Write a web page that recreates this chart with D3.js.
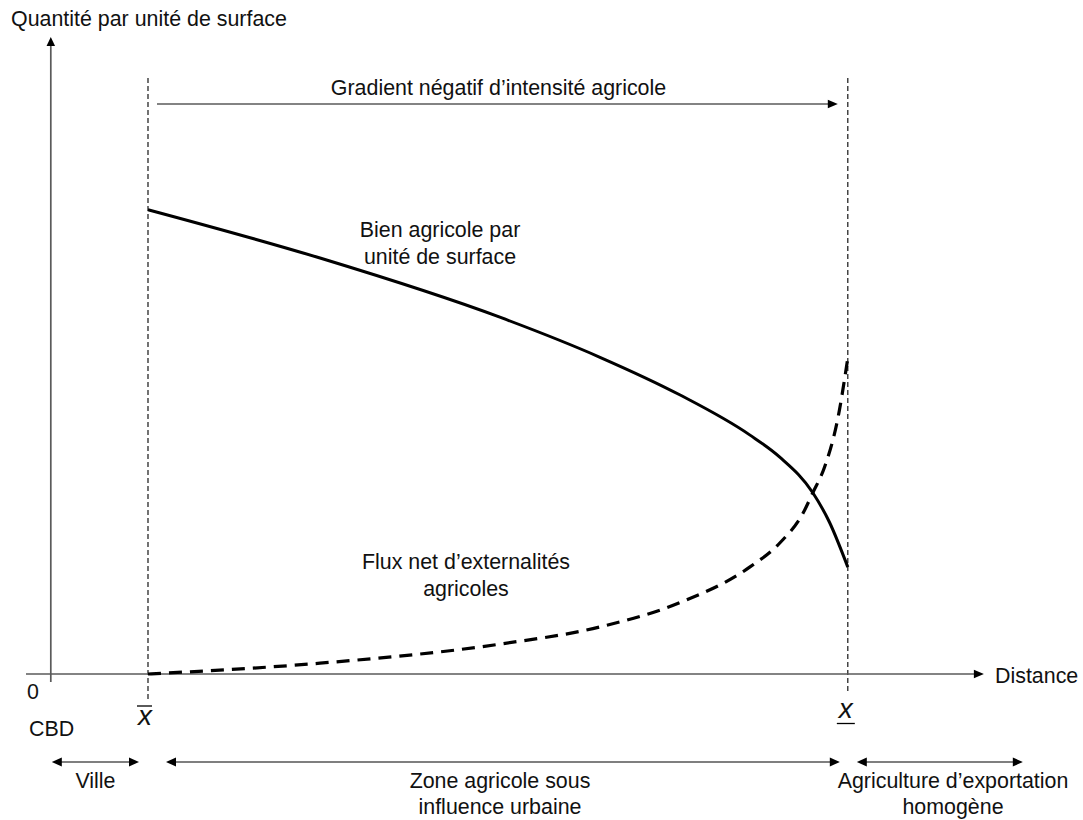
<!DOCTYPE html>
<html>
<head>
<meta charset="utf-8">
<script src="https://cdn.jsdelivr.net/npm/d3@7"></script>
<style>
  html, body { margin: 0; padding: 0; background: #fff; }
  svg { display: block; }
  text { font-family: "Liberation Sans", Arial, sans-serif; fill: #111; }
</style>
</head>
<body>
<svg id="chart" width="1083" height="820"></svg>
<script>
// ---- data (distance units along the x axis, quantity per unit of surface on y) ----
const xBar = 10;        // city edge  (x̄)
const xUnder = 82;      // limit of urban influence (x̲)
const bienDistances = [10, 27.7, 46.2, 56.5, 64.7, 71.9, 75, 78.4, 80.1, 82];
const bienValues    = [73.0, 65.4, 56.1, 49.8, 43.9, 37.6, 34.1, 28.5, 23.9, 16.8];
const fluxDistances = [10, 27.7, 46.2, 56.5, 64.7, 71.9, 75, 77.4, 78.4, 79.6, 81, 82];
const fluxValues    = [0, 1.7, 4.7, 7.4, 11.2, 16.8, 20.6, 25.3, 28.5, 32.5, 40.4, 49.7];
const yAxisLabel = "Quantité par unité de surface";
const xAxisLabel = "Distance";
const gradientLabel = "Gradient négatif d’intensité agricole";
const bienLabel = ["Bien agricole par", "unité de surface"];
const fluxLabel = ["Flux net d’externalités", "agricoles"];
const zoneLabels = [["Ville"], ["Zone agricole sous", "influence urbaine"], ["Agriculture d’exportation", "homogène"]];

const svg = d3.select("#chart");
const x = d3.scaleLinear().domain([0, 96]).range([50.8, 983.9]);
const y = d3.scaleLinear().domain([0, 100]).range([674, 38]);

const FS = 21.4;
const axisCol = "#5a5a5a";

function head(g, tipX, tipY, dir, len, wid, col) {
  let pts;
  if (dir === 'r') pts = [[tipX, tipY], [tipX - len, tipY - wid / 2], [tipX - len, tipY + wid / 2]];
  else if (dir === 'l') pts = [[tipX, tipY], [tipX + len, tipY - wid / 2], [tipX + len, tipY + wid / 2]];
  else pts = [[tipX, tipY], [tipX - wid / 2, tipY + len], [tipX + wid / 2, tipY + len]];
  g.append("path").attr("d", "M" + pts.join("L") + "Z").attr("fill", col || "#000");
}

// ---- vertical dashed markers ----
svg.append("line").attr("x1", x(xBar)).attr("x2", x(xBar)).attr("y1", 78).attr("y2", 700)
  .attr("stroke", "#000").attr("stroke-width", 1.1).attr("stroke-dasharray", "5,3");
svg.append("line").attr("x1", x(xUnder)).attr("x2", x(xUnder)).attr("y1", 78).attr("y2", 692)
  .attr("stroke", "#000").attr("stroke-width", 1.1).attr("stroke-dasharray", "5,3");

// ---- axes ----
svg.append("line").attr("x1", x(0)).attr("x2", x(0)).attr("y1", 44).attr("y2", 682)
  .attr("stroke", axisCol).attr("stroke-width", 1.7);
head(svg, x(0), 37, 'u', 9, 8.5, "#000");
svg.append("line").attr("x1", 26).attr("x2", x(96) - 8).attr("y1", y(0)).attr("y2", y(0))
  .attr("stroke", axisCol).attr("stroke-width", 1.7);
head(svg, x(96), y(0), 'r', 10, 8.5, "#000");

// ---- gradient arrow ----
svg.append("line").attr("x1", x(xBar) + 9).attr("x2", x(xUnder) - 18).attr("y1", 104).attr("y2", 104)
  .attr("stroke", axisCol).attr("stroke-width", 1.7);
head(svg, x(xUnder) - 10, 104, 'r', 10, 8.5, "#000");
svg.append("text").attr("x", 498.5).attr("y", 95).attr("text-anchor", "middle")
  .attr("font-size", FS).text(gradientLabel);

// ---- curves ----
const line = d3.line().x(d => x(d[0])).y(d => y(d[1])).curve(d3.curveMonotoneX);
svg.append("path").datum(d3.zip(bienDistances, bienValues)).attr("d", line)
  .attr("fill", "none").attr("stroke", "#000").attr("stroke-width", 3);
svg.append("path").datum(d3.zip(fluxDistances, fluxValues)).attr("d", line)
  .attr("fill", "none").attr("stroke", "#000").attr("stroke-width", 3.2)
  .attr("stroke-dasharray", "13,8");

// ---- curve labels ----
bienLabel.forEach((t, i) => svg.append("text").attr("x", 440).attr("y", 237 + i * 26.5)
  .attr("text-anchor", "middle").attr("font-size", FS).text(t));
fluxLabel.forEach((t, i) => svg.append("text").attr("x", 466).attr("y", 569 + i * 26.5)
  .attr("text-anchor", "middle").attr("font-size", FS).text(t));

// ---- axis labels ----
svg.append("text").attr("x", 11).attr("y", 26).attr("font-size", FS).text(yAxisLabel);
svg.append("text").attr("x", 995).attr("y", 683).attr("font-size", FS).text(xAxisLabel);
svg.append("text").attr("x", 33).attr("y", 699).attr("text-anchor", "middle").attr("font-size", FS).text("0");
svg.append("text").attr("x", 29).attr("y", 736).attr("font-size", FS).text("CBD");

// x-bar and x-underline (math italic x)
const mathFont = "'DejaVu Serif', 'Liberation Serif', serif";
svg.append("text").attr("x", x(xBar) - 3).attr("y", 725).attr("text-anchor", "middle")
  .attr("font-family", mathFont).attr("font-style", "italic").attr("font-size", 28).text("x");
svg.append("line").attr("x1", x(xBar) - 11).attr("x2", x(xBar) + 4).attr("y1", 706).attr("y2", 706)
  .attr("stroke", "#000").attr("stroke-width", 1.3);
svg.append("text").attr("x", x(xUnder) - 2).attr("y", 718).attr("text-anchor", "middle")
  .attr("font-family", mathFont).attr("font-style", "italic").attr("font-size", 28).text("x");
svg.append("line").attr("x1", x(xUnder) - 11).attr("x2", x(xUnder) + 7).attr("y1", 723.5).attr("y2", 723.5)
  .attr("stroke", "#000").attr("stroke-width", 1.3);

// ---- zone arrows ----
const arrowY = 762;
const zones = [[x(0) + 1, x(xBar) - 9], [x(xBar) + 18, x(xUnder) - 8], [x(xUnder) + 9, x(xUnder) + 175]];
zones.forEach(([a, b]) => {
  svg.append("line").attr("x1", a + 6).attr("x2", b - 6).attr("y1", arrowY).attr("y2", arrowY)
    .attr("stroke", "#000").attr("stroke-width", 1.2);
  head(svg, a, arrowY, 'l', 10, 9, "#000");
  head(svg, b, arrowY, 'r', 10, 9, "#000");
});
const zoneCenters = [95.5, 500, 953];
zoneLabels.forEach((lines, i) => lines.forEach((t, j) =>
  svg.append("text").attr("x", zoneCenters[i]).attr("y", 788 + j * 26)
    .attr("text-anchor", "middle").attr("font-size", FS).text(t)));
</script>
</body>
</html>
